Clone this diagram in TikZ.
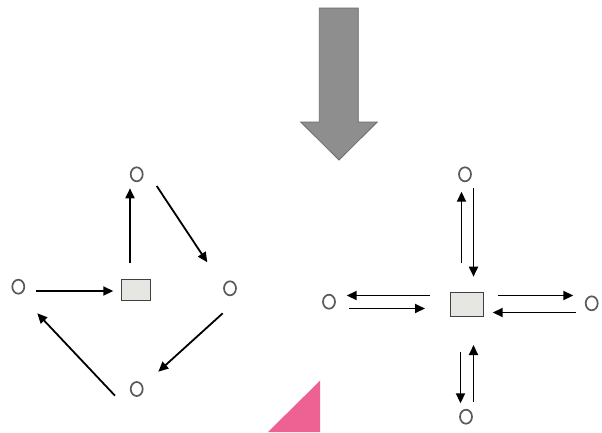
\documentclass[tikz,border=0pt]{standalone}
\usetikzlibrary{arrows.meta,shapes.geometric}
\definecolor{bigarrow}{HTML}{8E8E8E}
\definecolor{bigedge}{HTML}{6A6A6A}
\definecolor{boxfill}{HTML}{E6E6E2}
\definecolor{pinkc}{HTML}{EE6193}
\definecolor{circ}{HTML}{5A5A5A}
\begin{document}
\begin{tikzpicture}[x=1pt,y=-1pt,
  vert/.style={ellipse,draw=circ,line width=1.7pt,fill=white,inner sep=0pt,minimum width=12pt,minimum height=14pt},
  hub/.style={draw=black!75,line width=1.2pt,fill=boxfill,inner sep=0pt,rectangle},
  conn/.style={line width=1.8pt,-{Triangle[length=10pt,width=9pt]}}]
\path[fill=white] (0,0) rectangle (602,432);
\useasboundingbox (0,0) rectangle (602,432);
% big arrow
\draw[fill=bigarrow,draw=bigedge,line width=0.8pt] (319.3,8) -- (358.3,8) -- (358.3,122) -- (377.3,122) -- (339,160) -- (300.7,122) -- (319.3,122) -- cycle;
% pink triangle
\fill[pinkc] (320,380.7) -- (320,432) -- (268,432) -- cycle;
% left graph
\node[vert] (lt) at (136.7,174.3) {};
\node[vert] (ll) at (18.3,286.7) {};
\node[vert] (lr) at (230,288.3) {};
\node[vert] (lb) at (136.7,389) {};
\node[hub,minimum width=29pt,minimum height=21pt] (lh) at (136.2,289.7) {};
\coordinate (a1s) at (36,291); \coordinate (a1e) at (113.3,291);
\coordinate (a2s) at (130,263.3); \coordinate (a2e) at (130,188.3);
\coordinate (a3s) at (156.7,186); \coordinate (a3e) at (207.3,262.3);
\coordinate (a4s) at (222.7,313.3); \coordinate (a4e) at (158.3,371.7);
\coordinate (a5s) at (115,395.7); \coordinate (a5e) at (37.3,313.3);
\draw[conn] (a1s) -- (a1e);
\draw[conn] (a2s) -- (a2e);
\draw[conn] (a3s) -- (a3e);
\draw[conn] (a4s) -- (a4e);
\draw[conn] (a5s) -- (a5e);
% right graph
\node[vert] (rt) at (465,174.3) {};
\node[vert] (rl) at (329,301.7) {};
\node[vert] (rr) at (591.7,303.3) {};
\node[vert] (rb) at (466,416.7) {};
\node[hub,minimum width=32.6pt,minimum height=24pt] (rh) at (467,304.7) {};
\coordinate (b1s) at (461.5,263.3); \coordinate (b1e) at (461.5,191.7);
\coordinate (b2s) at (473.5,188.3); \coordinate (b2e) at (473.5,276.7);
\coordinate (b3s) at (430,295.5); \coordinate (b3e) at (346.7,295.5);
\coordinate (b4s) at (349.3,308.5); \coordinate (b4e) at (425,308.5);
\coordinate (b5s) at (497.7,295.5); \coordinate (b5e) at (573.3,295.5);
\coordinate (b6s) at (576,312.5); \coordinate (b6e) at (492.7,312.5);
\coordinate (b7s) at (460.5,351.7); \coordinate (b7e) at (460.5,403.3);
\coordinate (b8s) at (473.5,401.7); \coordinate (b8e) at (473.5,345);
\draw[conn] (b1s) -- (b1e);
\draw[conn] (b2s) -- (b2e);
\draw[conn] (b3s) -- (b3e);
\draw[conn] (b4s) -- (b4e);
\draw[conn] (b5s) -- (b5e);
\draw[conn] (b6s) -- (b6e);
\draw[conn] (b7s) -- (b7e);
\draw[conn] (b8s) -- (b8e);
\end{tikzpicture}
\end{document}
